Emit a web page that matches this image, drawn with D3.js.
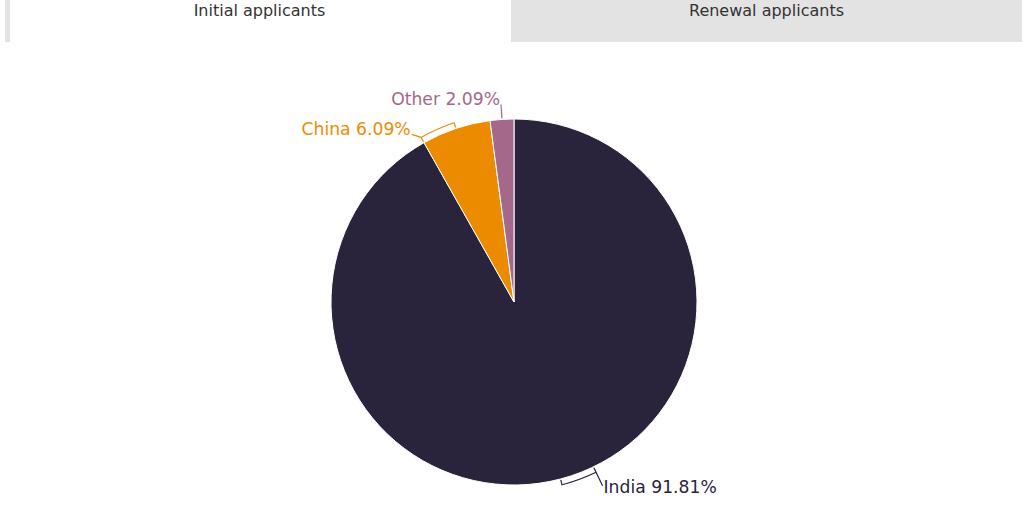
<!DOCTYPE html>
<html><head><meta charset="utf-8">
<script src="https://cdn.jsdelivr.net/npm/d3@7"></script>
<style>
html,body{margin:0;padding:0;background:#fff;}
svg{display:block;font-family:"DejaVu Sans",sans-serif;}
</style></head>
<body>
<svg id="chart" width="1024" height="512"></svg>
<script>
const tabs = ["Initial applicants", "Renewal applicants"];
const categories = ["India", "China", "Other"];
const values = [91.81, 6.09, 2.09];
const colors = ["#29233c", "#ec8b00", "#a4688a"];

const svg = d3.select("#chart");

// tabs
const tabX = d3.scaleBand().domain(tabs).range([0, 1022]);
const tabG = svg.append("g");
tabG.append("rect").attr("x", 5).attr("y", 0).attr("width", 5).attr("height", 42).attr("fill", "#e3e3e3");
tabG.append("rect").attr("x", tabX(tabs[1])).attr("y", 0).attr("width", tabX.bandwidth()).attr("height", 42).attr("fill", "#e3e3e3");
tabG.selectAll("text.tab").data(tabs).join("text")
  .attr("class", "tab")
  .attr("x", (d, i) => tabX(d) + tabX.bandwidth() / 2 + (i === 0 ? 4 : 0))
  .attr("y", 16)
  .attr("text-anchor", "middle")
  .attr("font-size", 16)
  .attr("fill", "#333")
  .text(d => d);

// pie
const cx = 514, cy = 302, r = 183;
const data = categories.map((c, i) => ({ name: c, value: values[i], color: colors[i] }));
const pie = d3.pie().value(d => d.value).sort(null);
const arcs = pie(data);
const arc = d3.arc().innerRadius(0).outerRadius(r);
const g = svg.append("g").attr("transform", `translate(${cx},${cy})`);
g.selectAll("path.slice").data(arcs).join("path")
  .attr("class", "slice")
  .attr("d", arc)
  .attr("fill", d => d.data.color)
  .attr("stroke", "#fff")
  .attr("stroke-width", 1);

// labels with bracket leaders
const rb = 189, rl = 204;
const pt = (a, rr) => [rr * Math.sin(a), -rr * Math.cos(a)];
const span = 11 * Math.PI / 180;
const labels = arcs.map(d => {
  const mid = (d.startAngle + d.endAngle) / 2;
  const small = (d.endAngle - d.startAngle) < 10 * Math.PI / 180;
  const a0 = small ? mid : Math.max(d.startAngle, mid - span);
  const s = pt(a0, small ? r + 1 : rb);
  const e = pt(a0, small ? rl - 6 : rl);
  return { d, mid, small, a0, s, e, right: e[0] > 0 };
});
// simple vertical collision resolution for left-side labels (push lower label down)
const left = labels.filter(l => !l.right).sort((a, b) => a.e[1] - b.e[1]);
for (let i = 1; i < left.length; i++) {
  const minGap = 30;
  if (left[i].e[1] - left[i - 1].e[1] < minGap) {
    left[i].e = [left[i].e[0] - 2, left[i - 1].e[1] + minGap];
  }
}
labels.forEach(l => {
  const col = l.d.data.color;
  if (!l.small) {
    const p1 = pt(l.a0, r + 1), p2 = pt(l.a0, rb), p4 = pt(l.mid, r + 1);
    const bracket = d3.path();
    bracket.moveTo(p1[0], p1[1]);
    bracket.lineTo(p2[0], p2[1]);
    bracket.arc(0, 0, rb, l.a0 - Math.PI / 2, l.mid - Math.PI / 2, false);
    bracket.lineTo(p4[0], p4[1]);
    g.append("path").attr("d", bracket.toString()).attr("fill", "none").attr("stroke", col).attr("stroke-width", 1.2);
  }
  g.append("line").attr("x1", l.s[0]).attr("y1", l.s[1]).attr("x2", l.e[0]).attr("y2", l.e[1])
    .attr("stroke", col).attr("stroke-width", 1.2);
  const lower = l.e[1] > 0;
  g.append("text")
    .attr("x", l.e[0] + (l.right ? 1 : -1))
    .attr("y", l.e[1] + (lower ? 7 : 1))
    .attr("text-anchor", l.right ? "start" : "end")
    .attr("font-size", 17.2)
    .attr("fill", col)
    .text(`${l.d.data.name} ${d3.format(".2f")(l.d.data.value)}%`);
});
</script>
</body></html>
